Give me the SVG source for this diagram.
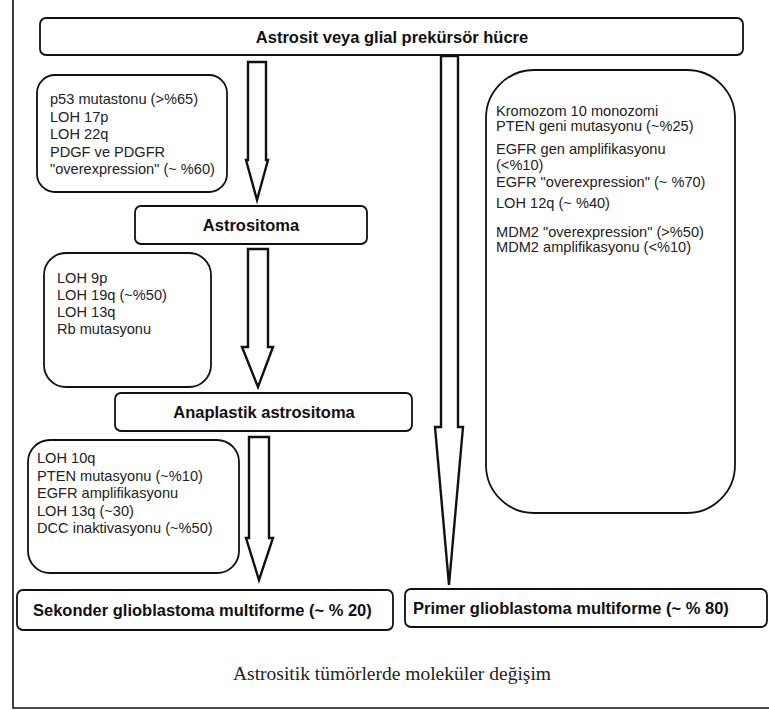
<svg xmlns="http://www.w3.org/2000/svg" width="769" height="710" viewBox="0 0 769 710">
<style>
.box{fill:#fff;stroke:#111;stroke-width:1.8}
.arrow{fill:#fff;stroke:#111;stroke-width:2.4;stroke-linejoin:miter}
.lbl{font-family:"Liberation Sans",Arial,sans-serif;font-weight:bold;font-size:16.5px;fill:#111}
.txt{font-family:"Liberation Sans",Arial,sans-serif;font-size:14.6px;fill:#222}
.cap{font-family:"Liberation Serif","Times New Roman",serif;font-size:18px;fill:#222}
.frame{stroke:#111;stroke-width:1.6;fill:none}
</style>
<rect width="769" height="710" fill="#fff"/>
<path class="frame" d="M13,0 V708 H769"/>

<g id="connectors">
<polygon class="arrow" points="248,62 266,62 266,160 268,160 257,200 246,160 248,160"/>
<polygon class="arrow" points="248,249 268,249 268,347 273,347 258,387 242,347 248,347"/>
<polygon class="arrow" points="249,437 269,437 269,538 273,538 259,580 246,538 249,538"/>
<polygon class="arrow" points="441,56 458,56 458,427 463,427 449,585 435,427 441,427"/>
</g>

<g id="node-top">
<rect class="box" x="40" y="18" width="703" height="37" rx="6"/>
<text class="lbl" x="392" y="43" text-anchor="middle">Astrosit veya glial prekürsör hücre</text>
</g>

<g id="node-box1">
<rect class="box" x="37" y="75" width="190" height="117" rx="18"/>
<text class="txt" x="50" y="104">p53 mutastonu (&gt;%65)</text>
<text class="txt" x="50" y="121.5">LOH 17p</text>
<text class="txt" x="50" y="139">LOH 22q</text>
<text class="txt" x="50" y="156.5">PDGF ve PDGFR</text>
<text class="txt" x="50" y="174">"overexpression" (~ %60)</text>
</g>

<g id="node-astrositoma">
<rect class="box" x="135" y="206" width="232" height="38" rx="6"/>
<text class="lbl" x="251" y="231" text-anchor="middle">Astrositoma</text>
</g>

<g id="node-box2">
<rect class="box" x="44" y="253" width="167" height="134" rx="22"/>
<text class="txt" x="57" y="283">LOH 9p</text>
<text class="txt" x="57" y="300">LOH 19q  (~%50)</text>
<text class="txt" x="57" y="317">LOH 13q</text>
<text class="txt" x="57" y="334">Rb mutasyonu</text>
</g>

<g id="node-anaplastik">
<rect class="box" x="115" y="393" width="297" height="38" rx="6"/>
<text class="lbl" x="264" y="418" text-anchor="middle">Anaplastik astrositoma</text>
</g>

<g id="node-box3">
<rect class="box" x="28" y="440" width="211" height="133" rx="22"/>
<text class="txt" x="37" y="463">LOH 10q</text>
<text class="txt" x="37" y="480.5">PTEN mutasyonu (~%10)</text>
<text class="txt" x="37" y="498">EGFR amplifikasyonu</text>
<text class="txt" x="37" y="515.5">LOH 13q (~30)</text>
<text class="txt" x="37" y="533">DCC inaktivasyonu (~%50)</text>
</g>

<g id="node-right">
<rect class="box" x="486" y="70" width="249" height="443" rx="48"/>
<text class="txt" x="496" y="116">Kromozom 10 monozomi</text>
<text class="txt" x="496" y="131">PTEN geni mutasyonu (~%25)</text>
<text class="txt" x="496" y="154">EGFR gen amplifikasyonu</text>
<text class="txt" x="496" y="170">(&lt;%10)</text>
<text class="txt" x="496" y="187">EGFR "overexpression" (~ %70)</text>
<text class="txt" x="496" y="208">LOH 12q (~ %40)</text>
<text class="txt" x="496" y="237">MDM2 "overexpression" (&gt;%50)</text>
<text class="txt" x="496" y="252">MDM2 amplifikasyonu (&lt;%10)</text>
</g>

<g id="node-sekonder">
<rect class="box" x="17" y="590" width="376" height="40" rx="6"/>
<text class="lbl" x="33" y="616">Sekonder glioblastoma multiforme (~ % 20)</text>
</g>

<g id="node-primer">
<rect class="box" x="405" y="589" width="362" height="38" rx="6"/>
<text class="lbl" x="413" y="614">Primer glioblastoma multiforme (~ % 80)</text>
</g>

<text class="cap" x="233" y="680" textLength="318" lengthAdjust="spacingAndGlyphs">Astrositik tümörlerde moleküler değişim</text>
</svg>
